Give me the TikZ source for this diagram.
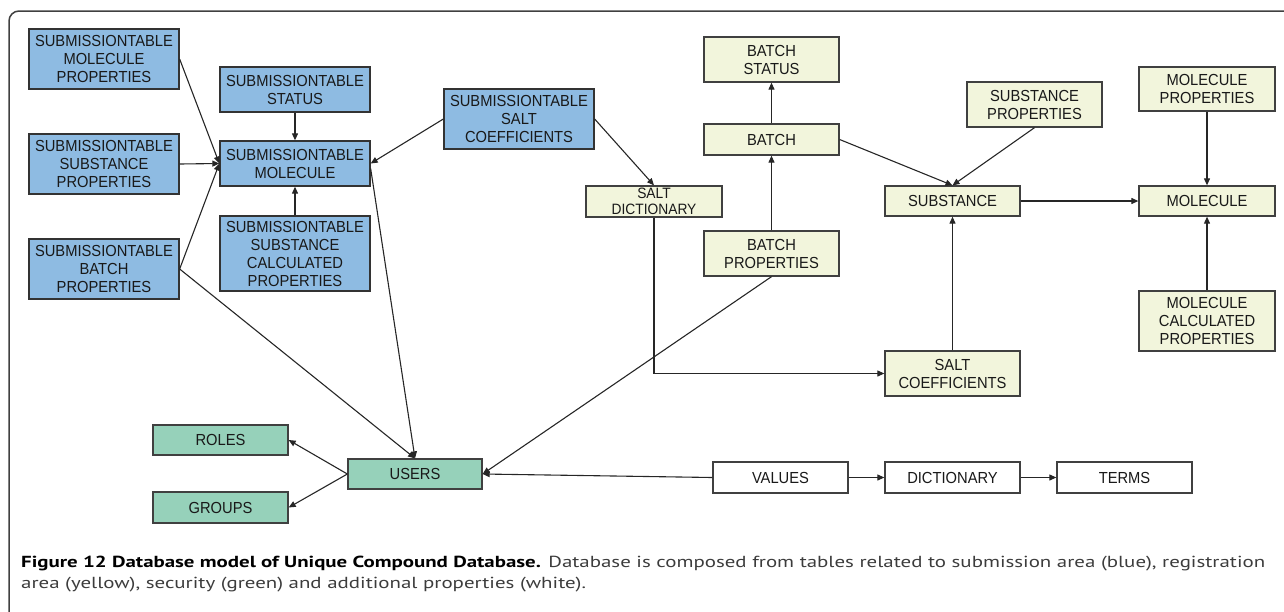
\documentclass[tikz,border=0pt]{standalone}
\usepackage{fontspec}
\usepackage{graphicx}
\setmainfont{Liberation Sans}
\newfontfamily\boxfont[FakeStretch=0.92]{Liberation Sans}
\newfontfamily\capfont{PT Sans}
\usetikzlibrary{arrows.meta,calc}
\definecolor{bluefill}{RGB}{142,187,226}
\definecolor{yelfill}{RGB}{242,245,220}
\definecolor{grnfill}{RGB}{150,209,186}
\definecolor{boxline}{RGB}{64,64,64}
\definecolor{capgray}{RGB}{60,60,60}
\newsavebox\capboxA
\newsavebox\capboxB
\newlength\capw
\begin{document}
\sbox\capboxA{\capfont\fontsize{16}{18}\selectfont\textbf{Figure 12 Database model of Unique Compound Database.} \textcolor{capgray}{Database is composed from tables related to submission area (blue), registration}}%
\sbox\capboxB{\capfont\fontsize{16}{18}\selectfont\textcolor{capgray}{area (yellow), security (green) and additional properties (white).}}%
\setlength\capw{\wd\capboxA}%
\pgfmathsetmacro\capf{1244/\capw}%
\begin{tikzpicture}[x=1pt,y=-1pt,
  tbl/.style={draw=boxline, line width=1.3pt, inner sep=0pt, align=center,
    font=\boxfont\fontsize{16}{18}\selectfont, text=black!90},
  subbox/.style={tbl, fill=bluefill, draw=black!80},
  regbox/.style={tbl, fill=yelfill},
  secbox/.style={tbl, fill=grnfill},
  addbox/.style={tbl, fill=white},
  conn/.style={-{Triangle[length=7pt,width=6pt]}, line width=1.1pt, draw=black!85},
  wide/.style={minimum width=150pt},
  narrow/.style={minimum width=135pt}
]
\useasboundingbox (0,0) rectangle (1284,611);
\draw[line width=1.5pt, draw=black!75, rounded corners=10pt] (9,11) rectangle (1310,630);

% submission area (blue)
\node[subbox, wide, minimum height=60pt] (smp) at (104,59) {SUBMISSIONTABLE\\MOLECULE\\PROPERTIES};
\node[subbox, wide, minimum height=60pt] (ssp) at (104,164) {SUBMISSIONTABLE\\SUBSTANCE\\PROPERTIES};
\node[subbox, wide, minimum height=60pt] (sbp) at (104,269) {SUBMISSIONTABLE\\BATCH\\PROPERTIES};
\node[subbox, wide, minimum height=45pt] (sstat) at (295,89.5) {SUBMISSIONTABLE\\STATUS};
\node[subbox, wide, minimum height=45pt] (smol) at (295,163.5) {SUBMISSIONTABLE\\MOLECULE};
\node[subbox, wide, minimum height=75pt] (sscp) at (295,253.5) {SUBMISSIONTABLE\\SUBSTANCE\\CALCULATED\\PROPERTIES};
\node[subbox, wide, minimum height=60pt] (ssalt) at (519,119) {SUBMISSIONTABLE\\SALT\\COEFFICIENTS};

% registration area (yellow)
\node[regbox, narrow, minimum height=45pt] (bstat) at (771.5,59.5) {BATCH\\STATUS};
\node[regbox, narrow, minimum height=31pt] (batch) at (771.5,139.5) {BATCH};
\node[regbox, narrow, minimum height=45pt] (bprop) at (771.5,253.5) {BATCH\\PROPERTIES};
\node[regbox, minimum width=136pt, minimum height=31pt, font=\boxfont\fontsize{15}{16.5}\selectfont] (saltd) at (654,201.5) {SALT\\DICTIONARY};
\node[regbox, narrow, minimum height=45pt] (sprop) at (1034.5,104.5) {SUBSTANCE\\PROPERTIES};
\node[regbox, narrow, minimum height=30pt] (subst) at (952.5,201) {SUBSTANCE};
\node[regbox, minimum width=136pt, minimum height=44pt] (mprop) at (1207,89) {MOLECULE\\PROPERTIES};
\node[regbox, minimum width=136pt, minimum height=30pt] (mol) at (1207,201) {MOLECULE};
\node[regbox, minimum width=136pt, minimum height=60pt] (mcalc) at (1207,321) {MOLECULE\\CALCULATED\\PROPERTIES};
\node[regbox, narrow, minimum height=45pt] (saltc) at (952.5,373.5) {SALT\\COEFFICIENTS};

% security (green)
\node[secbox, narrow, minimum height=30pt] (roles) at (220.5,440) {ROLES};
\node[secbox, narrow, minimum height=31pt] (groups) at (220.5,507.5) {GROUPS};
\node[secbox, minimum width=134pt, minimum height=30pt] (users) at (415,474) {USERS};

% additional (white)
\node[addbox, narrow, minimum height=31pt] (values) at (780.5,477.5) {VALUES};
\node[addbox, narrow, minimum height=31pt] (dict) at (952.5,477.5) {DICTIONARY};
\node[addbox, narrow, minimum height=31pt] (terms) at (1124.5,477.5) {TERMS};

% connectors
\draw[conn] (smp.east) -- (smol.west);
\draw[conn] (ssp.east) -- (smol.west);
\draw[conn] (sbp.east) -- (smol.west);
\draw[conn] (sstat.south) -- (smol.north);
\draw[conn] (sscp.north) -- (smol.south);
\draw[conn] (ssalt.west) -- (smol.east);
\draw[conn] (ssalt.east) -- (saltd.north);
\draw[conn] (saltd.south) |- (saltc.west);
\draw[conn] (saltc.north) -- (subst.south);
\draw[conn] (bprop.north) -- (batch.south);
\draw[conn] (batch.north) -- (bstat.south);
\draw[conn] (batch.east) -- (subst.north);
\draw[conn] (sprop.south) -- (subst.north);
\draw[conn] (subst.east) -- (mol.west);
\draw[conn] (mprop.south) -- (mol.north);
\draw[conn] (mcalc.north) -- (mol.south);
\draw[conn] (sbp.east) -- (users.north);
\draw[conn] ($(smol.east)+(0,5)$) -- (users.north);
\draw[conn] (bprop.south) -- (users.east);
\draw[conn] (values.west) -- (users.east);
\draw[conn] (users.west) -- (roles.east);
\draw[conn] (users.west) -- (groups.east);
\draw[conn] (values.east) -- (dict.west);
\draw[conn] (dict.east) -- (terms.west);

% caption
\node[anchor=base west, inner sep=0pt] (cap1) at (21,567) {\scalebox{\capf}[1]{\usebox\capboxA}};
\node[anchor=base west, inner sep=0pt] (cap2) at (21,588) {\scalebox{\capf}[1]{\usebox\capboxB}};
\end{tikzpicture}
\end{document}
